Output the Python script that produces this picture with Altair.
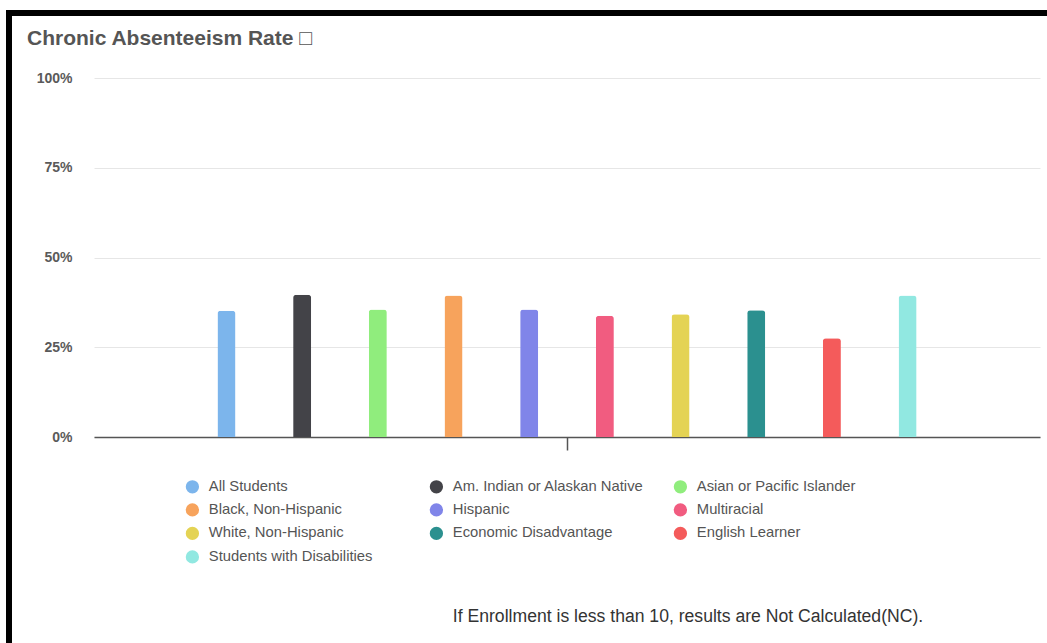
import altair as alt
import pandas as pd

# Student groups, their bar colours and chronic absenteeism rates (share of students)
groups = [
    "All Students",
    "Am. Indian or Alaskan Native",
    "Asian or Pacific Islander",
    "Black, Non-Hispanic",
    "Hispanic",
    "Multiracial",
    "White, Non-Hispanic",
    "Economic Disadvantage",
    "English Learner",
    "Students with Disabilities",
]
colors = [
    "#7cb5ec", "#434348", "#90ed7d", "#f7a35c", "#8085e9",
    "#f15c80", "#e4d354", "#2b908f", "#f45b5b", "#91e8e1",
]
rates = [0.352, 0.396, 0.355, 0.394, 0.355, 0.338, 0.342, 0.353, 0.275, 0.394]
y_ticks = [0, 0.25, 0.5, 0.75, 1.0]

title_text = "Chronic Absenteeism Rate \u25a1"
note_text = "If Enrollment is less than 10, results are Not Calculated(NC)."

FONT = "Liberation Sans"
PLOT_W, PLOT_H = 946, 359

df = pd.DataFrame({"category": [""] * len(groups), "group": groups, "rate": rates})

bars = (
    alt.Chart(df)
    .mark_bar(cornerRadiusTopLeft=3, cornerRadiusTopRight=3)
    .encode(
        x=alt.X(
            "category:N",
            title=None,
            scale=alt.Scale(paddingInner=0.2, paddingOuter=0.1),
            axis=alt.Axis(
                labels=False,
                ticks=True,
                tickSize=13,
                tickColor="#555555",
                tickWidth=1.5,
                domainColor="#555555",
                domainWidth=1.5,
                grid=False,
            ),
        ),
        xOffset=alt.XOffset(
            "group:N",
            sort=groups,
            scale=alt.Scale(paddingInner=0.762, paddingOuter=0.381),
        ),
        y=alt.Y(
            "rate:Q",
            title=None,
            scale=alt.Scale(domain=[0, 1], nice=False),
            axis=alt.Axis(
                values=y_ticks,
                format=".0%",
                domain=False,
                ticks=False,
                labelPadding=22,
                labelFont=FONT,
                labelFontSize=14,
                labelFontWeight="bold",
                labelColor="#5a5a5a",
                gridColor="#e6e6e6",
                gridWidth=1,
            ),
        ),
        color=alt.Color(
            "group:N",
            sort=groups,
            scale=alt.Scale(domain=groups, range=colors),
            legend=alt.Legend(
                title=None,
                orient="none",
                legendX=91,
                legendY=401,
                columns=3,
                direction="horizontal",
                gridAlign="all",
                columnPadding=29,
                rowPadding=7.5,
                padding=0,
                symbolType="circle",
                symbolSize=177,
                symbolStrokeWidth=0,
                symbolOpacity=1,
                labelFont=FONT,
                labelFontSize=14.8,
                labelColor="#555555",
                labelOffset=9,
                labelLimit=300,
            ),
        ),
    )
)

# Chart heading, top left
heading = (
    alt.Chart(pd.DataFrame({"t": [title_text]}))
    .mark_text(
        font=FONT, fontSize=21, fontWeight="bold", color="#555555",
        align="left", baseline="alphabetic",
    )
    .encode(text="t:N", x=alt.value(-67), y=alt.value(-33))
)

# Footnote below the legend
note = (
    alt.Chart(pd.DataFrame({"t": [note_text]}))
    .mark_text(font=FONT, fontSize=17.6, color="#333333", align="center", baseline="middle")
    .encode(text="t:N", x=alt.value(594), y=alt.value(539))
)

# Card frame: heavy top and left edges
frame_top = (
    alt.Chart(pd.DataFrame({"k": [0]}))
    .mark_rule(color="#000000", strokeWidth=6)
    .encode(x=alt.value(-88), x2=alt.value(953), y=alt.value(-65))
)
frame_left = (
    alt.Chart(pd.DataFrame({"k": [0]}))
    .mark_rule(color="#000000", strokeWidth=6)
    .encode(x=alt.value(-85), y=alt.value(-68), y2=alt.value(565))
)

chart = (
    alt.layer(bars, heading, note, frame_top, frame_left)
    .properties(
        width=PLOT_W,
        height=PLOT_H,
        autosize=alt.AutoSizeParams(type="none"),
        padding={"left": 94, "top": 78, "right": 7, "bottom": 206},
        background="white",
    )
    .configure_view(stroke=None)
)

chart.save("out.html", embed_options={"renderer": "svg", "actions": False})
